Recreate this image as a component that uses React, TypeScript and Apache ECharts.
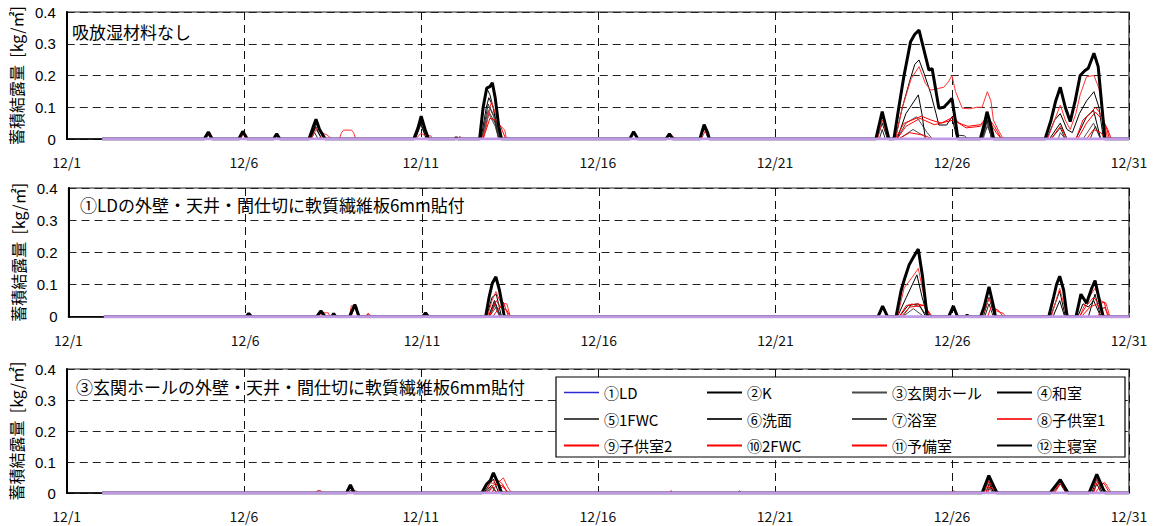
import React, { useEffect, useRef } from "react";
import * as echarts from "echarts";

// ---- axis ticks ----
const TICK_DAYS = [0, 5, 10, 15, 20, 25, 30];
const TICK_LABELS = ["12/1", "12/6", "12/11", "12/16", "12/21", "12/26", "12/31"];
const Y_MAX = 0.4;
const Y_STEP = 0.1;

const SERIES_NAMES = [
  "①LD", "②K", "③玄関ホール", "④和室", "⑤1FWC", "⑥洗面",
  "⑦浴室", "⑧子供室1", "⑨子供室2", "⑩2FWC", "⑪予備室", "⑫主寝室",
];

const PANEL_TITLES = [
  "吸放湿材料なし",
  "①LDの外壁・天井・間仕切に軟質繊維板6mm貼付",
  "③玄関ホールの外壁・天井・間仕切に軟質繊維板6mm貼付",
];

// ---- panel 1: 吸放湿材料なし  ([day since 12/1, kg/㎡]) ----
const P1_LD = [[1, 0], [30, 0]];
const P1_K = [[1, 0],
  [3.9, 0], [4.0, 0.018], [4.1, 0],
  [4.88, 0], [4.97, 0.02], [5.08, 0],
  [6.86, 0], [6.98, 0.03], [7.04, 0.05], [7.14, 0.025], [7.28, 0],
  [9.82, 0], [9.95, 0.04], [10.01, 0.06], [10.1, 0.03], [10.2, 0],
  [11.68, 0], [11.78, 0.11], [11.86, 0.16], [11.95, 0.14], [12.06, 0.09], [12.16, 0.03], [12.24, 0],
  [17.9, 0], [18.0, 0.035], [18.12, 0],
  [22.88, 0], [23.03, 0.05], [23.18, 0],
  [23.4, 0], [23.6, 0.1], [23.8, 0.18], [23.95, 0.235], [24.07, 0.249], [24.21, 0.207], [24.4, 0.144], [24.55, 0.08], [24.63, 0.044], [24.85, 0.044], [25.0, 0.07], [25.08, 0.03], [25.14, 0],
  [25.82, 0], [25.92, 0.04], [25.99, 0.07], [26.08, 0.04], [26.16, 0],
  [27.68, 0], [27.9, 0.06], [28.06, 0.08], [28.25, 0.03], [28.4, 0.02], [28.6, 0.08], [28.8, 0.12], [29.01, 0.149], [29.15, 0.1], [29.28, 0],
  [30, 0]];
const P1_HALL = [[1, 0],
  [6.9, 0], [7.02, 0.035], [7.2, 0],
  [9.85, 0], [10.0, 0.045], [10.15, 0],
  [11.72, 0], [11.9, 0.09], [12.1, 0.05], [12.22, 0],
  [23.45, 0], [23.7, 0.05], [24.0, 0.07], [24.3, 0.02], [24.45, 0],
  [25.85, 0], [26.0, 0.04], [26.15, 0],
  [28.7, 0], [29.0, 0.05], [29.2, 0],
  [30, 0]];
const P1_WASHITSU = [[1, 0],
  [3.92, 0], [4.0, 0.012], [4.08, 0],
  [6.88, 0], [7.03, 0.04], [7.2, 0],
  [9.84, 0], [10.0, 0.05], [10.16, 0],
  [11.7, 0], [11.85, 0.1], [11.92, 0.13], [12.05, 0.1], [12.2, 0],
  [23.45, 0], [23.7, 0.08], [24.05, 0.139], [24.15, 0.08], [24.25, 0],
  [25.85, 0], [25.99, 0.06], [26.12, 0],
  [27.75, 0], [28.06, 0.05], [28.25, 0],
  [28.5, 0], [28.8, 0.07], [29.0, 0.09], [29.2, 0],
  [30, 0]];
const P1_1FWC = [[1, 0],
  [11.74, 0], [11.92, 0.08], [12.1, 0.04], [12.2, 0],
  [23.5, 0], [23.9, 0.03], [24.2, 0.01], [24.3, 0],
  [28.0, 0], [28.06, 0.02], [28.2, 0],
  [30, 0]];
const P1_SENMEN = [[1, 0],
  [6.9, 0], [7.0, 0.02], [7.1, 0],
  [11.72, 0], [11.9, 0.11], [12.06, 0.07], [12.2, 0],
  [22.95, 0], [23.03, 0.03], [23.12, 0],
  [25.1, 0], [25.2, 0.012], [25.35, 0.01], [25.45, 0],
  [25.86, 0], [26.0, 0.06], [26.12, 0],
  [27.8, 0], [28.06, 0.035], [28.2, 0],
  [28.9, 0], [29.05, 0.04], [29.2, 0],
  [30, 0]];
const P1_YOKU = [[1, 0],
  [11.75, 0], [11.95, 0.1], [12.12, 0.06], [12.22, 0],
  [25.88, 0], [26.02, 0.05], [26.14, 0],
  [30, 0]];
const P1_KODOMO1 = [[1, 0],
  [3.92, 0], [4.02, 0.015], [4.15, 0],
  [4.9, 0], [5.0, 0.016], [5.12, 0],
  [6.9, 0], [7.08, 0.037], [7.2, 0.02], [7.35, 0.013], [7.48, 0],
  [7.7, 0], [7.76, 0.02], [7.82, 0.028], [8.04, 0.028], [8.1, 0.02], [8.16, 0],
  [9.86, 0], [10.0, 0.018], [10.1, 0.012], [10.28, 0.01], [10.34, 0],
  [11.05, 0], [11.1, 0.009], [11.15, 0],
  [11.72, 0], [11.85, 0.04], [11.93, 0.09], [12.0, 0.118], [12.1, 0.08], [12.23, 0.044], [12.37, 0.028], [12.42, 0],
  [16.95, 0], [17.06, 0.014], [17.2, 0],
  [17.92, 0], [18.03, 0.025], [18.16, 0],
  [22.9, 0], [23.03, 0.06], [23.2, 0],
  [23.4, 0], [23.6, 0.1], [23.85, 0.19], [24.07, 0.228], [24.25, 0.175], [24.4, 0.154], [24.55, 0.158], [24.77, 0.163], [24.9, 0.18], [25.0, 0.2], [25.1, 0.15], [25.29, 0.097], [25.5, 0.095], [25.7, 0.1], [25.85, 0.1], [26.0, 0.149], [26.1, 0.12], [26.17, 0.06], [26.3, 0.03], [26.45, 0],
  [27.7, 0], [27.9, 0.06], [28.06, 0.107], [28.2, 0.06], [28.34, 0.03], [28.5, 0.08], [28.62, 0.139], [28.8, 0.196], [29.01, 0.2], [29.15, 0.16], [29.3, 0.05], [29.4, 0],
  [30, 0]];
const P1_KODOMO2 = [[1, 0],
  [11.76, 0], [11.95, 0.065], [12.1, 0.06], [12.25, 0.04], [12.4, 0],
  [23.4, 0], [23.64, 0.049], [24.14, 0.072], [24.4, 0.06], [24.7, 0.05], [25.05, 0.07], [25.2, 0.05], [25.45, 0.04], [25.8, 0.045], [26.0, 0.07], [26.2, 0.04], [26.4, 0],
  [28.5, 0], [28.7, 0.06], [28.9, 0.08], [29.05, 0.1], [29.2, 0.08], [29.35, 0.04], [29.45, 0],
  [30, 0]];
const P1_2FWC = [[1, 0],
  [7.1, 0], [7.2, 0.01], [7.3, 0],
  [23.5, 0], [23.8, 0.02], [24.2, 0.012], [24.45, 0],
  [28.8, 0], [29.0, 0.03], [29.2, 0.02], [29.35, 0],
  [30, 0]];
const P1_YOBI = [[1, 0],
  [23.45, 0], [23.7, 0.04], [24.1, 0.065], [24.5, 0.045], [25.05, 0.06], [25.4, 0.035], [25.8, 0.04], [26.0, 0.065], [26.25, 0.02], [26.4, 0],
  [27.8, 0], [28.06, 0.04], [28.25, 0],
  [28.55, 0], [28.8, 0.05], [29.05, 0.085], [29.25, 0.06], [29.4, 0.03], [29.5, 0],
  [30, 0]];
const P1_SHUSHIN = [[1, 0],
  [3.88, 0], [4.0, 0.022], [4.11, 0],
  [4.86, 0], [4.97, 0.024], [5.1, 0],
  [5.84, 0], [5.93, 0.016], [6.02, 0],
  [6.84, 0], [6.95, 0.035], [7.04, 0.062], [7.14, 0.03], [7.3, 0],
  [9.8, 0], [9.92, 0.035], [10.01, 0.072], [10.12, 0.03], [10.22, 0],
  [10.95, 0], [11.0, 0.004], [11.05, 0],
  [11.66, 0], [11.76, 0.1], [11.86, 0.16], [11.95, 0.165], [12.02, 0.177], [12.1, 0.13], [12.2, 0.04], [12.28, 0],
  [15.9, 0], [16.01, 0.023], [16.13, 0],
  [16.92, 0], [17.02, 0.016], [17.12, 0],
  [17.88, 0], [18.0, 0.045], [18.1, 0.02], [18.15, 0],
  [22.85, 0], [23.03, 0.086], [23.22, 0],
  [23.36, 0], [23.5, 0.1], [23.64, 0.196], [23.83, 0.306], [23.95, 0.33], [24.07, 0.343], [24.21, 0.28], [24.35, 0.217], [24.44, 0.222], [24.55, 0.15], [24.63, 0.097], [24.77, 0.1], [24.9, 0.115], [25.0, 0.128], [25.08, 0.07], [25.17, 0],
  [25.8, 0], [25.92, 0.05], [25.99, 0.086], [26.08, 0.05], [26.18, 0],
  [27.63, 0], [27.8, 0.06], [27.93, 0.12], [28.06, 0.163], [28.2, 0.1], [28.34, 0.055], [28.48, 0.12], [28.62, 0.2], [28.75, 0.215], [28.85, 0.223], [29.01, 0.27], [29.13, 0.228], [29.22, 0.12], [29.32, 0],
  [30, 0]];

// ---- panel 2: LD に軟質繊維板 ----
const P2_LD = [[1, 0], [30, 0]];
const P2_K = [[1, 0],
  [7.45, 0], [7.5, 0.01], [7.56, 0],
  [7.98, 0], [8.1, 0.03], [8.2, 0],
  [11.83, 0], [11.98, 0.06], [12.1, 0.07], [12.25, 0],
  [23.45, 0], [23.7, 0.06], [24.0, 0.13], [24.15, 0.06], [24.3, 0],
  [25.88, 0], [26.04, 0.06], [26.2, 0],
  [27.78, 0], [28.04, 0.08], [28.2, 0],
  [28.85, 0], [29.04, 0.07], [29.2, 0],
  [30, 0]];
const P2_HALL = [[1, 0],
  [11.9, 0], [12.08, 0.04], [12.22, 0],
  [23.6, 0], [23.85, 0.04], [24.1, 0.03], [24.3, 0],
  [30, 0]];
const P2_WASHITSU = [[1, 0],
  [11.88, 0], [12.05, 0.05], [12.22, 0],
  [23.5, 0], [23.75, 0.035], [24.05, 0.04], [24.25, 0],
  [27.85, 0], [28.04, 0.05], [28.18, 0],
  [28.55, 0], [28.7, 0.04], [28.85, 0.03], [29.0, 0.05], [29.2, 0],
  [30, 0]];
const P2_1FWC = [[1, 0],
  [11.9, 0], [12.1, 0.03], [12.25, 0],
  [23.6, 0], [23.9, 0.025], [24.2, 0],
  [30, 0]];
const P2_SENMEN = [[1, 0],
  [7.05, 0], [7.15, 0.012], [7.25, 0],
  [11.88, 0], [12.06, 0.045], [12.2, 0],
  [25.92, 0], [26.04, 0.04], [26.16, 0],
  [30, 0]];
const P2_YOKU = [[1, 0],
  [11.9, 0], [12.05, 0.035], [12.2, 0],
  [30, 0]];
const P2_KODOMO1 = [[1, 0],
  [7.08, 0], [7.2, 0.012], [7.35, 0.012], [7.4, 0],
  [7.95, 0], [8.0, 0.034], [8.15, 0.034], [8.2, 0],
  [8.42, 0], [8.48, 0.01], [8.54, 0],
  [11.85, 0], [11.98, 0.05], [12.09, 0.078], [12.2, 0.05], [12.28, 0.041], [12.4, 0.04], [12.5, 0],
  [23.45, 0], [23.64, 0.09], [23.85, 0.12], [24.04, 0.15], [24.15, 0.09], [24.3, 0.02], [24.4, 0],
  [25.85, 0], [26.04, 0.057], [26.2, 0.02], [26.45, 0.01], [26.5, 0],
  [27.8, 0], [28.04, 0.088], [28.2, 0.02], [28.3, 0],
  [28.6, 0], [28.8, 0.05], [29.04, 0.088], [29.2, 0.05], [29.35, 0.042], [29.46, 0],
  [30, 0]];
const P2_KODOMO2 = [[1, 0],
  [8.0, 0], [8.05, 0.03], [8.15, 0.03], [8.2, 0],
  [11.9, 0], [12.1, 0.05], [12.22, 0.03], [12.3, 0.045], [12.45, 0],
  [23.5, 0], [23.7, 0.035], [24.0, 0.04], [24.2, 0.035], [24.44, 0],
  [26.0, 0], [26.1, 0.03], [26.3, 0.02], [26.45, 0],
  [28.6, 0], [28.8, 0.035], [29.0, 0.06], [29.15, 0.04], [29.3, 0.045], [29.4, 0],
  [30, 0]];
const P2_2FWC = [[1, 0],
  [8.38, 0], [8.48, 0.01], [8.56, 0],
  [12.0, 0], [12.2, 0.03], [12.4, 0.02], [12.5, 0],
  [29.1, 0], [29.3, 0.03], [29.45, 0],
  [30, 0]];
const P2_YOBI = [[1, 0],
  [23.55, 0], [23.8, 0.03], [24.2, 0.035], [24.4, 0],
  [28.65, 0], [28.9, 0.03], [29.1, 0.04], [29.3, 0],
  [30, 0]];
const P2_SHUSHIN = [[1, 0],
  [5.02, 0], [5.1, 0.01], [5.18, 0],
  [7.02, 0], [7.14, 0.018], [7.26, 0],
  [7.45, 0], [7.5, 0.01], [7.56, 0],
  [7.95, 0], [8.1, 0.038], [8.22, 0],
  [10.02, 0], [10.1, 0.012], [10.18, 0],
  [11.8, 0], [11.9, 0.062], [11.99, 0.104], [12.09, 0.124], [12.19, 0.083], [12.33, 0],
  [22.9, 0], [23.03, 0.033], [23.17, 0],
  [23.41, 0], [23.55, 0.08], [23.64, 0.114], [23.78, 0.161], [23.9, 0.185], [24.04, 0.21], [24.16, 0.124], [24.28, 0.01], [24.32, 0],
  [24.9, 0], [25.03, 0.033], [25.15, 0],
  [25.38, 0], [25.42, 0.005], [25.46, 0],
  [25.8, 0], [25.9, 0.03], [26.04, 0.093], [26.18, 0.026], [26.22, 0],
  [27.73, 0], [27.87, 0.062], [27.95, 0.1], [28.04, 0.126], [28.15, 0.083], [28.25, 0],
  [28.5, 0], [28.64, 0.07], [28.8, 0.042], [28.95, 0.09], [29.04, 0.112], [29.18, 0.042], [29.27, 0],
  [30, 0]];

// ---- panel 3: 玄関ホールに軟質繊維板 ----
const P3_LD = [[1, 0], [30, 0]];
const P3_K = [[1, 0],
  [11.78, 0], [11.95, 0.03], [12.05, 0.045], [12.2, 0],
  [25.9, 0], [26.04, 0.04], [26.2, 0],
  [27.85, 0], [28.06, 0.03], [28.22, 0],
  [28.95, 0], [29.09, 0.045], [29.25, 0],
  [30, 0]];
const P3_HALL = [[1, 0], [11.85, 0], [12.0, 0.02], [12.15, 0], [30, 0]];
const P3_WASHITSU = [[1, 0],
  [11.8, 0], [12.0, 0.025], [12.15, 0],
  [25.95, 0], [26.05, 0.03], [26.18, 0],
  [28.98, 0], [29.09, 0.03], [29.22, 0],
  [30, 0]];
const P3_1FWC = [[1, 0], [12.0, 0], [12.08, 0.012], [12.16, 0], [30, 0]];
const P3_SENMEN = [[1, 0],
  [7.95, 0], [8.02, 0.01], [8.1, 0],
  [26.0, 0], [26.06, 0.02], [26.14, 0],
  [30, 0]];
const P3_YOKU = [[1, 0], [30, 0]];
const P3_KODOMO1 = [[1, 0],
  [7.05, 0], [7.08, 0.008], [7.17, 0.008], [7.2, 0],
  [8.05, 0], [8.15, 0.008], [8.25, 0],
  [11.85, 0], [11.95, 0.035], [12.05, 0.03], [12.12, 0.049], [12.2, 0.035], [12.33, 0.049], [12.45, 0.02], [12.56, 0],
  [17.02, 0], [17.07, 0.008], [17.12, 0],
  [18.95, 0], [19.0, 0.008], [19.05, 0],
  [24.98, 0], [25.05, 0.008], [25.12, 0],
  [25.9, 0], [26.05, 0.04], [26.2, 0.015], [26.35, 0],
  [27.85, 0], [28.06, 0.035], [28.3, 0],
  [28.9, 0], [29.09, 0.045], [29.2, 0.02], [29.3, 0.035], [29.35, 0.03], [29.5, 0],
  [30, 0]];
const P3_KODOMO2 = [[1, 0],
  [11.9, 0], [12.05, 0.025], [12.2, 0.04], [12.3, 0.03], [12.45, 0],
  [25.95, 0], [26.08, 0.03], [26.3, 0],
  [27.9, 0], [28.06, 0.03], [28.25, 0],
  [29.0, 0], [29.1, 0.035], [29.3, 0.03], [29.45, 0],
  [30, 0]];
const P3_2FWC = [[1, 0],
  [7.98, 0], [8.05, 0.006], [8.12, 0],
  [12.1, 0], [12.3, 0.02], [12.5, 0],
  [30, 0]];
const P3_YOBI = [[1, 0],
  [12.0, 0], [12.15, 0.03], [12.35, 0.02], [12.45, 0],
  [26.0, 0], [26.1, 0.02], [26.25, 0],
  [29.05, 0], [29.2, 0.025], [29.4, 0],
  [30, 0]];
const P3_SHUSHIN = [[1, 0],
  [7.9, 0], [8.01, 0.026], [8.12, 0],
  [11.72, 0], [11.86, 0.029], [11.96, 0.04], [12.05, 0.065], [12.19, 0.029], [12.28, 0],
  [25.85, 0], [26.04, 0.056], [26.27, 0],
  [27.77, 0], [28.06, 0.043], [28.28, 0],
  [28.87, 0], [29.09, 0.06], [29.32, 0],
  [30, 0]];

const PANEL_DATA = [
  [P1_LD, P1_K, P1_HALL, P1_WASHITSU, P1_1FWC, P1_SENMEN, P1_YOKU, P1_KODOMO1, P1_KODOMO2, P1_2FWC, P1_YOBI, P1_SHUSHIN],
  [P2_LD, P2_K, P2_HALL, P2_WASHITSU, P2_1FWC, P2_SENMEN, P2_YOKU, P2_KODOMO1, P2_KODOMO2, P2_2FWC, P2_YOBI, P2_SHUSHIN],
  [P3_LD, P3_K, P3_HALL, P3_WASHITSU, P3_1FWC, P3_SENMEN, P3_YOKU, P3_KODOMO1, P3_KODOMO2, P3_2FWC, P3_YOBI, P3_SHUSHIN],
];

// ---- styling ----
const LINE_COLORS = [
  "#c09ae6", "#000000", "#4a4a4a", "#000000", "#4a4a4a", "#2a2a2a",
  "#4a4a4a", "#ff3030", "#ff0000", "#ff0000", "#ff0000", "#000000",
];
const LD_LEGEND_COLOR = "#2a2ad0";
const LINE_WIDTHS = [3, 1, 1, 1, 1, 1, 1, 1, 1, 1, 1, 3];

const GRIDS = [
  { left: 64, top: 12, width: 1065, height: 127 },
  { left: 68.5, top: 188, width: 1060.5, height: 128.7 },
  { left: 64, top: 369, width: 1065, height: 124 },
];
const TITLE_POS = [
  [72, 31],
  [80, 204],
  [76, 386],
];
const LEGEND_COLUMNS = [
  [0, 4, 8],
  [1, 5, 9],
  [2, 6, 10],
  [3, 7, 11],
];
const LEGEND_LEFT = [558, 701, 846, 991];

const JP_FONT = '"Noto Sans CJK JP", "Noto Sans", sans-serif';
const NUM_FONT = '"Liberation Sans", Arial, sans-serif';
const DASH = [8, 5];

export default function App() {
  const ref = useRef<HTMLDivElement>(null);

  useEffect(() => {
    if (!ref.current) return;
    const chart = echarts.init(ref.current, null, { renderer: "svg" });

    const xAxes = GRIDS.map((_, i) => ({
      type: "value",
      gridIndex: i,
      min: TICK_DAYS[0],
      max: TICK_DAYS[TICK_DAYS.length - 1],
      interval: 5,
      axisLine: { show: true, onZero: false, lineStyle: { color: "#000", width: 1.5 } },
      axisTick: { show: false },
      axisLabel: {
        margin: 16,
        fontSize: 14,
        fontFamily: JP_FONT,
        color: "#111",
        showMinLabel: true,
        showMaxLabel: true,
        formatter: (v: number) => {
          const k = TICK_DAYS.indexOf(v);
          return k >= 0 ? TICK_LABELS[k] : "";
        },
      },
      splitLine: { show: true, lineStyle: { color: "#111", width: 1, type: DASH } },
    }));

    const yAxes = GRIDS.map((_, i) => ({
      type: "value",
      gridIndex: i,
      min: 0,
      max: Y_MAX,
      interval: Y_STEP,
      name: "蓄積結露量  [kg/㎡]",
      nameLocation: "middle",
      nameRotate: 90,
      nameGap: 42,
      nameTextStyle: { fontSize: 16, fontFamily: JP_FONT, color: "#000" },
      axisLine: { show: true, lineStyle: { color: "#000", width: 2 } },
      axisTick: { show: false },
      axisLabel: {
        margin: 11,
        fontSize: 15,
        fontFamily: NUM_FONT,
        color: "#000",
        formatter: (v: number) => (v === 0 ? "0" : v.toFixed(1)),
      },
      splitLine: { show: true, lineStyle: { color: "#222", width: 1, type: DASH } },
    }));

    const series: any[] = [];
    PANEL_DATA.forEach((panel, p) => {
      panel.forEach((data, s) => {
        series.push({
          type: "line",
          name: SERIES_NAMES[s],
          xAxisIndex: p,
          yAxisIndex: p,
          data,
          symbol: "none",
          showSymbol: false,
          silent: true,
          z: s === 0 ? 4 : 2,
          color: LINE_COLORS[s],
          lineStyle: { color: LINE_COLORS[s], width: LINE_WIDTHS[s] },
        });
      });
    });

    // legend: plain line samples, no marker dots
    const legends = LEGEND_COLUMNS.map((col, i) => ({
      orient: "vertical",
      left: LEGEND_LEFT[i],
      top: 380,
      itemWidth: 35,
      itemHeight: 14,
      itemGap: 11.5,
      selectedMode: false,
      z: 10,
      itemStyle: { opacity: 0, borderWidth: 0, color: "rgba(0,0,0,0)" },
      textStyle: { fontSize: 15, fontFamily: JP_FONT, color: "#000" },
      data: col.map((s) =>
        s === 0
          ? { name: SERIES_NAMES[s], lineStyle: { color: LD_LEGEND_COLOR, width: 1.5 } }
          : { name: SERIES_NAMES[s] }
      ),
    }));

    const titles = PANEL_TITLES.map((t, i) => ({
      type: "text",
      x: TITLE_POS[i][0],
      y: TITLE_POS[i][1],
      z: 6,
      style: {
        text: t,
        fill: "#000",
        font: `17px ${JP_FONT}`,
        verticalAlign: "middle",
      },
    }));

    chart.setOption({
      animation: false,
      backgroundColor: "#fff",
      grid: GRIDS.map((g) => ({ ...g, show: true, borderColor: "#222", borderWidth: 1.2, backgroundColor: "transparent" })),
      xAxis: xAxes,
      yAxis: yAxes,
      series,
      legend: legends,
      graphic: [
        ...titles,
        {
          type: "rect",
          z: 8,
          shape: { x: 556, y: 377, width: 569, height: 80 },
          style: { fill: "#fff", stroke: "#000", lineWidth: 1.2 },
        },
      ],
    });

    return () => chart.dispose();
  }, []);

  return (
    <div
      ref={ref}
      style={{ position: "fixed", left: 0, top: 0, width: 1156, height: 526, background: "#fff" }}
    />
  );
}
